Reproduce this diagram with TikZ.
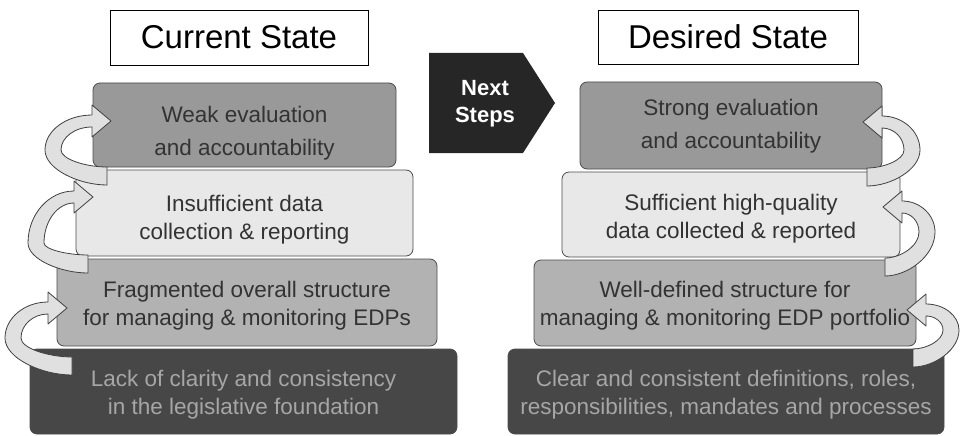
\documentclass[tikz,border=0pt]{standalone}
\usepackage{fontspec}
\setmainfont{Liberation Sans}
\newcommand\ribbonloop[7]{%
  \pgfmathsetmacro\rbhb{#5-19*#7}%
  \pgfmathsetmacro\rbxi{#3+16*#7}%
  \filldraw[ribbon] (#1,{#2+9}) .. controls ({#3+0.55*(#1-#3)},{#2+9}) and (#3,{#4+0.55*(#2+9-#4)}) .. (#3,#4)
    .. controls (#3,{#4-0.55*(#4-#6+6)}) and ({\rbhb-0.55*(\rbhb-#3)},{#6-6}) .. (\rbhb,{#6-6})
    -- (\rbhb,{#6-16}) -- (#5,#6) -- (\rbhb,{#6+16}) -- (\rbhb,{#6+6})
    .. controls ({\rbhb-0.55*(\rbhb-\rbxi)},{#6+6}) and (\rbxi,{#4-0.55*(#4-#6-6)}) .. (\rbxi,#4)
    .. controls (\rbxi,{#4+0.55*(#2-9-#4)}) and ({\rbxi+0.55*(#1-\rbxi)},{#2-9}) .. (#1,{#2-9}) -- cycle;}
\begin{document}
\begin{tikzpicture}[x=1pt,y=-1pt,
  box/.style={draw=black!70, line width=0.8pt, rounded corners=7pt, inner sep=0pt},
  titlebox/.style={draw=black, line width=0.8pt, inner sep=0pt, font=\fontsize{33}{38}\selectfont},
  txt/.style={align=center, font=\fontsize{22.5}{28}\selectfont, text=black!80},
  toptxt/.style={txt, font=\fontsize{22.5}{33}\selectfont},
  ribbon/.style={fill=black!12, draw=black!75, line width=0.8pt, line join=round}]
\useasboundingbox (0,0) rectangle (964,436);
% titles
\node[titlebox, minimum width=258pt, minimum height=55pt] (ct) at (239,37.5) {Current State};
\node[titlebox, minimum width=260pt, minimum height=54pt] (dt) at (728,37) {Desired State};
% next steps
\fill[black!85] (429,53) -- (523,53) -- (555,103) -- (523,153) -- (429,153) -- cycle;
\node[font=\bfseries\fontsize{22}{27}\selectfont, text=white, align=center] (ns) at (485,104) {Next\\Steps};
% left stack
\node[box, fill=black!72, minimum width=427pt, minimum height=85pt] (l4) at (243.5,391.5) {};
\node[box, fill=black!30, minimum width=380pt, minimum height=87pt] (l3) at (247,302.5) {};
\node[box, fill=black!9, minimum width=337pt, minimum height=86pt] (l2) at (244.5,213) {};
\node[box, fill=black!40, minimum width=303pt, minimum height=84pt] (l1) at (244.5,125) {};
% right stack
\node[box, fill=black!72, minimum width=436pt, minimum height=85pt] (r4) at (726,391.5) {};
\node[box, fill=black!30, minimum width=382pt, minimum height=86pt] (r3) at (725,303) {};
\node[box, fill=black!9, minimum width=338pt, minimum height=85pt] (r2) at (731,214.5) {};
\node[box, fill=black!40, minimum width=302pt, minimum height=87pt] (r1) at (731,125.5) {};
% texts
\node[toptxt] (l1t) at (244.5,133) {Weak evaluation\\and accountability};
\node[txt] (l2t) at (244.5,220) {Insufficient data\\collection \& reporting};
\node[txt] (l3t) at (247,306) {Fragmented overall structure\\for managing \& monitoring EDPs};
\node[txt, text=black!35] (l4t) at (243.5,394.5) {Lack of clarity and consistency\\in the legislative foundation};
\node[toptxt] (r1t) at (731,126) {Strong evaluation\\and accountability};
\node[txt] (r2t) at (731,219) {Sufficient high-quality\\data collected \& reported};
\node[txt] (r3t) at (725,306) {Well-defined structure for\\managing \& monitoring EDP portfolio};
\node[txt, text=black!35] (r4t) at (726,394.5) {Clear and consistent definitions, roles,\\responsibilities, mandates and processes};
% loop arrows
\ribbonloop{107}{176}{45}{150}{111}{121}{1}
\ribbonloop{88}{264}{28}{243}{93}{197}{1}
\ribbonloop{72}{366}{5}{338}{67}{308}{1}
\ribbonloop{867}{177}{920}{150}{863}{122}{-1}
\ribbonloop{885}{267}{935}{232}{883}{207}{-1}
\ribbonloop{913}{358}{959}{330}{907}{310}{-1}
\end{tikzpicture}
\end{document}
